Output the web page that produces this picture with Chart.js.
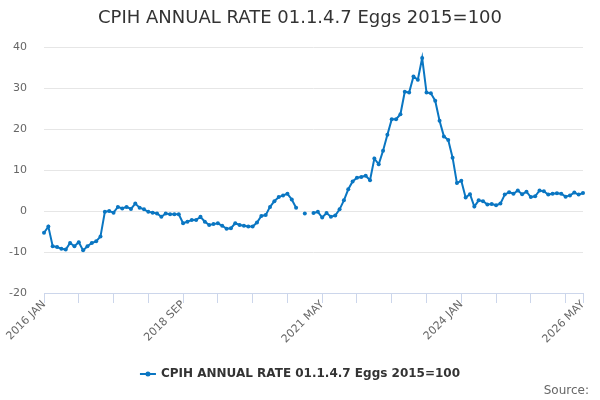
<!DOCTYPE html>
<html lang="en">
<head>
<meta charset="utf-8">
<title>CPIH ANNUAL RATE 01.1.4.7 Eggs 2015=100</title>
<script src="https://cdn.jsdelivr.net/npm/chart.js@4"></script>
<style>
    body { margin: 0; background: #fff; }
    #chartBox { width: 600px; height: 400px; }
</style>
</head>
<body>
<div id="chartBox">
    <canvas id="eggsChart" width="600" height="400"></canvas>
</div>
<script>
// Название ряда
const seriesName = 'CPIH ANNUAL RATE 01.1.4.7 Eggs 2015=100';

// Месяцы с 2016 JAN по 2026 MAY
const monthNames = ['JAN', 'FEB', 'MAR', 'APR', 'MAY', 'JUN', 'JUL', 'AUG', 'SEP', 'OCT', 'NOV', 'DEC'];
const startYear = 2016;
const monthCount = 125;

// Подписи, которые видны на оси X
const tickLabels = ['2016 JAN', '2018 SEP', '2021 MAY', '2024 JAN', '2026 MAY'];

// Годовой темп, % (null - нет данных)
const rateValues = [
    -5.3, -3.8, -8.6, -8.8, -9.2, -9.4, -7.8, -8.6, -7.6, -9.6, -8.6, -7.8,
    -7.4, -6.2, -0.2, 0.0, -0.4, 1.0, 0.6, 1.0, 0.5, 1.8, 0.8, 0.4,
    -0.2, -0.4, -0.6, -1.4, -0.6, -0.8, -0.8, -0.8, -3.0, -2.6, -2.2, -2.2,
    -1.4, -2.6, -3.4, -3.2, -3.0, -3.6, -4.3, -4.2, -3.0, -3.4, -3.6, -3.8,
    -3.8, -2.8, -1.2, -1.0, 1.0, 2.4, 3.4, 3.8, 4.2, 2.8, 0.8, null,
    -0.6, null, -0.5, -0.2, -1.6, -0.5, -1.4, -1.1, 0.4, 2.6, 5.3, 7.2,
    8.1, 8.3, 8.6, 7.5, 12.8, 11.4, 14.7, 18.6, 22.4, 22.4, 23.6, 29.1,
    28.9, 32.8, 32.0, 37.3, 28.9, 28.7, 26.9, 22.0, 18.2, 17.3, 13.0, 6.8,
    7.4, 3.3, 4.1, 1.1, 2.6, 2.4, 1.6, 1.7, 1.4, 1.8, 4.0, 4.6,
    4.2, 5.0, 4.1, 4.7, 3.4, 3.6, 5.0, 4.8, 4.0, 4.2, 4.3, 4.2,
    3.5, 3.8, 4.5, 4.0, 4.4
];

// Ось Y
const yMin = -20;
const yMax = 40;
const yStep = 10;

const lineColor = '#0a76c2';
const fontFamily = '"DejaVu Sans", sans-serif';

// Подписи категорий
function buildMonthLabels() {
    const labels = [];
    for (let i = 0; i < monthCount; i++) {
        const year = startYear + Math.floor(i / 12);
        labels.push(year + ' ' + monthNames[i % 12]);
    }
    return labels;
}

// Легенда и подпись "Source:" внизу
const footerPlugin = {
    id: 'footerLegend',
    afterDraw(chart) {
        const ctx = chart.ctx;
        ctx.save();

        ctx.font = 'bold 12px ' + fontFamily;
        const textWidth = ctx.measureText(seriesName).width;
        const symbolWidth = 16;
        const gap = 5;
        const total = symbolWidth + gap + textWidth;
        const startX = (chart.width - total) / 2;
        const y = 374;

        ctx.strokeStyle = lineColor;
        ctx.lineWidth = 2;
        ctx.beginPath();
        ctx.moveTo(startX, y);
        ctx.lineTo(startX + symbolWidth, y);
        ctx.stroke();
        ctx.fillStyle = lineColor;
        ctx.beginPath();
        ctx.arc(startX + symbolWidth / 2, y, 2.5, 0, Math.PI * 2);
        ctx.fill();

        ctx.fillStyle = '#333333';
        ctx.textAlign = 'left';
        ctx.textBaseline = 'middle';
        ctx.fillText(seriesName, startX + symbolWidth + gap, y);

        ctx.font = '12px ' + fontFamily;
        ctx.fillStyle = '#666666';
        ctx.textAlign = 'right';
        ctx.fillText('Source:', 589, 391);

        ctx.restore();
    }
};

document.addEventListener('DOMContentLoaded', function() {
    const monthLabels = buildMonthLabels();

    new Chart(document.getElementById('eggsChart'), {
        type: 'line',
        data: {
            labels: monthLabels,
            datasets: [{
                label: seriesName,
                data: rateValues,
                borderColor: lineColor,
                backgroundColor: lineColor,
                borderWidth: 2,
                pointRadius: 2,
                pointHoverRadius: 2,
                pointBackgroundColor: lineColor,
                pointBorderWidth: 0,
                spanGaps: false,
                tension: 0
            }]
        },
        options: {
            responsive: false,
            animation: false,
            layout: {
                padding: 0
            },
            plugins: {
                legend: { display: false },
                tooltip: { enabled: false },
                title: {
                    display: true,
                    text: seriesName,
                    color: '#333333',
                    font: { family: fontFamily, size: 18, weight: 'normal' },
                    padding: { top: 8, bottom: 17.4 }
                }
            },
            scales: {
                x: {
                    type: 'category',
                    afterFit: function(scale) { scale.height = 107; },
                    border: { display: true, color: '#ccd6eb', width: 1 },
                    grid: {
                        drawOnChartArea: false,
                        drawTicks: true,
                        tickLength: 10,
                        color: function(ctx) {
                            return (ctx.index % 8 === 0 || ctx.index === monthCount - 1) ? '#ccd6eb' : 'rgba(0,0,0,0)';
                        }
                    },
                    ticks: {
                        autoSkip: false,
                        minRotation: 45,
                        maxRotation: 45,
                        padding: -5,
                        color: '#666666',
                        font: { family: fontFamily, size: 11 },
                        callback: function(value) {
                            const label = this.getLabelForValue(value);
                            return tickLabels.includes(label) ? label : '';
                        }
                    }
                },
                y: {
                    min: yMin,
                    max: yMax,
                    afterFit: function(scale) { scale.width = 44; },
                    border: { display: false },
                    grid: { color: '#e6e6e6', drawTicks: false },
                    ticks: {
                        stepSize: yStep,
                        padding: 17,
                        color: '#666666',
                        font: { family: fontFamily, size: 11 }
                    }
                },
                // пустая ось справа - отступ, чтобы заголовок стоял по центру окна
                yRight: {
                    position: 'right',
                    min: yMin,
                    max: yMax,
                    afterFit: function(scale) { scale.width = 17; },
                    border: { display: false },
                    grid: { display: false },
                    ticks: { display: false }
                }
            }
        },
        plugins: [footerPlugin]
    });
});
</script>
</body>
</html>
